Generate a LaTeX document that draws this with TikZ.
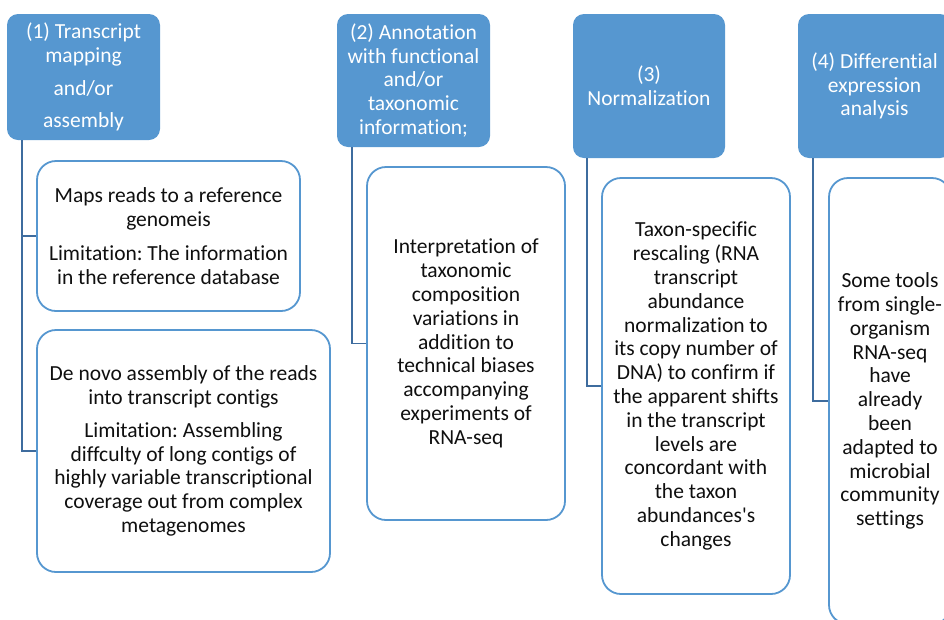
\documentclass[tikz,border=0pt]{standalone}
\usepackage{fontspec}
\setmainfont[Ligatures={NoCommon}]{Carlito}
\definecolor{stepblue}{RGB}{86,151,208}
\definecolor{linkblue}{RGB}{62,108,158}
\definecolor{inkgray}{RGB}{15,15,15}
\newcommand{\boxfont}{\fontsize{21.5}{23.8}\selectfont\frenchspacing}

\begin{document}
\begin{tikzpicture}[x=1pt, y=-1pt,
    head/.style={fill=stepblue, rounded corners=11pt, inner sep=0pt,
        align=center, text=white, font=\boxfont},
    leaf/.style={draw=stepblue, line width=1.8pt, fill=white, rounded corners=19pt,
        inner sep=0pt, align=center, text=inkgray, font=\boxfont},
    link/.style={draw=linkblue, line width=1.4pt}]
    \useasboundingbox (0,0) rectangle (944,619);
    \clip (0,0) rectangle (944,619);

    % Step headers
    \node[head, minimum width=153pt, minimum height=126pt] (map) at (83.5,77)
        {(1) Transcript\\mapping\\[9pt]and/or\\[8pt]assembly};
    \node[head, minimum width=153pt, minimum height=133pt] (ann) at (413.5,80.5)
        {(2) Annotation\\with functional\\and/or\\taxonomic\\information;};
    \node[head, minimum width=152pt, minimum height=144pt] (norm) at (649,86)
        {(3)\\Normalization};
    \node[head, minimum width=153pt, minimum height=144pt] (diff) at (874.5,86)
        {(4) Differential\\expression\\analysis};

    % Details under each step
    \node[leaf, minimum width=263pt, minimum height=150pt] (mapref) at (168.5,236)
        {Maps reads to a reference\\genomeis\\[10pt]Limitation: The information\\in the reference database};
    \node[leaf, minimum width=293pt, minimum height=242pt] (mapnovo) at (183.5,451)
        {De novo assembly of the reads\\into transcript contigs\\[9pt]Limitation: Assembling\\diffculty of long contigs of\\highly variable transcriptional\\coverage out from complex\\metagenomes};
    \node[leaf, minimum width=198pt, minimum height=353pt] (anntax) at (466,343.5)
        {Interpretation of\\taxonomic\\composition\\variations in\\addition to\\technical biases\\accompanying\\experiments of\\RNA-seq};
    \node[leaf, minimum width=188pt, minimum height=416pt] (normtax) at (696,386)
        {Taxon-specific\\rescaling (RNA\\transcript\\abundance\\normalization to\\its copy number of\\DNA) to confirm if\\the apparent shifts\\in the transcript\\levels are\\concordant with\\the taxon\\abundances\textquotesingle s\\changes};
    \node[leaf, minimum width=122pt, minimum height=446pt] (difftools) at (890,401)
        {Some tools\\from single-\\organism\\RNA-seq\\have\\already\\been\\adapted to\\microbial\\community\\settings};

    % Connectors
    \draw[link] ([xshift=15pt]map.south west) |- (mapref.west);
    \draw[link] ([xshift=15pt]map.south west) |- (mapnovo.west);
    \draw[link] ([xshift=15pt]ann.south west) |- (anntax.west);
    \draw[link] ([xshift=14pt]norm.south west) |- (normtax.west);
    \draw[link] ([xshift=15pt]diff.south west) |- (difftools.west);
\end{tikzpicture}
\end{document}
